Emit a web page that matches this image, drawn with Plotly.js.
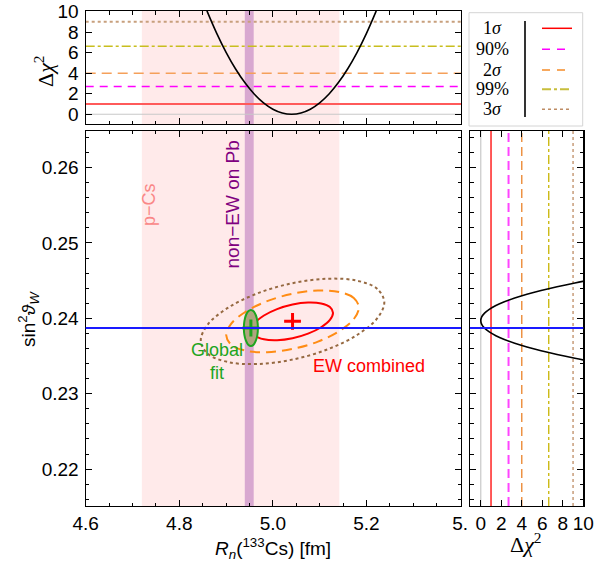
<!DOCTYPE html>
<html><head><meta charset="utf-8">
<script src="https://cdn.plot.ly/plotly-3.0.1.min.js"></script>
<style>html,body{margin:0;padding:0;background:#fff}#chart{width:611px;height:564px}</style>
</head><body><div id="chart"></div>
<script>
// ---- data ----
const thresholds = [1, 2.71, 4, 6.63, 9];
const levelLabels = ['1<i>σ</i>', '90%', '2<i>σ</i>', '99%', '3<i>σ</i>'];
const pCsBand = [4.72, 5.142];
const pbBand = [4.940, 4.959];
const sinGlobal = 0.23873;
const ewCenter = [5.042, 0.2396];
const gfCenter = [4.953, 0.23872];

// top panel: Δχ² vs Rn
const rnScan = [4.85, 4.86, 4.88, 4.90, 4.92, 4.94, 4.96, 4.98, 5.00, 5.02, 5.04, 5.06, 5.08, 5.10, 5.12, 5.14, 5.16, 5.18, 5.20, 5.22, 5.23];
const chiRn  = [11.1, 9.97, 7.88, 6.03, 4.43, 3.08, 1.97, 1.11, 0.49, 0.12, 0.0, 0.12, 0.49, 1.11, 1.97, 3.08, 4.43, 6.03, 7.88, 9.97, 11.1];

// right panel: Δχ² vs sin²θW
const s2wScan = [0.2343, 0.2347, 0.2352, 0.2357, 0.2362, 0.2367, 0.2372, 0.2377, 0.2382, 0.2387, 0.2392, 0.2397, 0.2402, 0.2407, 0.2412, 0.2417, 0.2422, 0.2427, 0.2432, 0.2437, 0.2442, 0.2447, 0.2451];
const chiS2w  = [10.71, 9.18, 7.44, 5.88, 4.50, 3.31, 2.30, 1.47, 0.83, 0.37, 0.09, 0.0, 0.09, 0.37, 0.83, 1.47, 2.30, 3.31, 4.50, 5.88, 7.44, 9.18, 10.71];

// EW combined contours
const ew1x = [5.1285, 5.1219, 5.1031, 5.0751, 5.0420, 5.0089, 4.9809, 4.9621, 4.9555, 4.9621, 4.9809, 5.0089, 5.0420, 5.0751, 5.1031, 5.1219];
const ew1y = [0.24073, 0.24150, 0.24198, 0.24210, 0.24184, 0.24123, 0.24038, 0.23941, 0.23847, 0.23770, 0.23722, 0.23710, 0.23736, 0.23797, 0.23882, 0.23979];
const ew2x = [5.1837, 5.1729, 5.1422, 5.0963, 5.0420, 4.9877, 4.9418, 4.9111, 4.9003, 4.9111, 4.9418, 4.9877, 5.0420, 5.0963, 5.1422, 5.1729];
const ew2y = [0.24145, 0.24271, 0.24349, 0.24369, 0.24326, 0.24228, 0.24088, 0.23930, 0.23775, 0.23649, 0.23571, 0.23551, 0.23594, 0.23692, 0.23832, 0.23990];
const ew3x = [5.2381, 5.2232, 5.1806, 5.1171, 5.0420, 4.9669, 4.9034, 4.8608, 4.8459, 4.8608, 4.9034, 4.9669, 5.0420, 5.1171, 5.1806, 5.2232];
const ew3y = [0.24215, 0.24390, 0.24499, 0.24526, 0.24467, 0.24331, 0.24138, 0.23918, 0.23705, 0.23530, 0.23421, 0.23394, 0.23453, 0.23589, 0.23782, 0.24002];
// global fit contour
const gfx = [4.9680, 4.9669, 4.9636, 4.9587, 4.9530, 4.9473, 4.9424, 4.9391, 4.9380, 4.9391, 4.9424, 4.9473, 4.9530, 4.9587, 4.9636, 4.9669];
const gfy = [0.23872, 0.23964, 0.24041, 0.24093, 0.24111, 0.24093, 0.24041, 0.23964, 0.23872, 0.23780, 0.23703, 0.23651, 0.23633, 0.23651, 0.23703, 0.23780];

// ---- styles ----
const W = 611, H = 564;
const px = v => v / W, py = v => 1 - v / H;
const lvlStyleTop = [
  {color: 'rgb(255,90,90)', width: 2, dash: 'solid'},
  {color: '#ff00ff', width: 1.5, dash: '8px,6px'},
  {color: 'rgb(245,160,90)', width: 1.5, dash: '10px,6px'},
  {color: 'rgb(200,190,30)', width: 1.5, dash: 'dashdot'},
  {color: 'rgb(200,160,125)', width: 2, dash: 'dot'}
];
const lvlStyleRight = [
  {color: '#ff0000', width: 1.3, dash: 'solid'},
  {color: '#ff44ff', width: 2, dash: '9px,5px'},
  {color: 'rgb(235,130,40)', width: 1.3, dash: '9px,5px'},
  {color: 'rgb(200,180,0)', width: 1.3, dash: 'dashdot'},
  {color: 'rgb(190,140,100)', width: 1.3, dash: 'dot'}
];
const lvlStyleLeg = [
  {color: '#ff0000', width: 1.5, dash: 'solid'},
  {color: '#ff00ff', width: 1.5, dash: '8px,7px'},
  {color: 'rgb(245,140,40)', width: 1.5, dash: '8px,7px'},
  {color: 'rgb(200,190,60)', width: 2, dash: 'dashdot'},
  {color: 'rgb(190,140,100)', width: 1.5, dash: 'dot'}
];
const legY = [28.3, 49.3, 70, 89.3, 109.3];
const close = a => a.concat([a[0]]);

const traces = [
  {x: rnScan, y: chiRn, xaxis: 'x', yaxis: 'y', mode: 'lines', line: {color: 'black', width: 1.6, shape: 'spline'}, hoverinfo: 'skip'},
  {x: chiS2w, y: s2wScan, xaxis: 'x3', yaxis: 'y3', mode: 'lines', line: {color: 'black', width: 1.6, shape: 'spline'}, hoverinfo: 'skip'},
  {x: close(ew3x), y: close(ew3y), xaxis: 'x2', yaxis: 'y2', mode: 'lines', line: {color: 'rgb(150,105,65)', width: 2, dash: 'dot', shape: 'spline'}},
  {x: close(ew2x), y: close(ew2y), xaxis: 'x2', yaxis: 'y2', mode: 'lines', line: {color: 'rgb(255,140,20)', width: 2, dash: '10px,6px', shape: 'spline'}},
  {x: close(ew1x), y: close(ew1y), xaxis: 'x2', yaxis: 'y2', mode: 'lines', line: {color: '#ff0000', width: 2, shape: 'spline'}},
  {x: close(gfx), y: close(gfy), xaxis: 'x2', yaxis: 'y2', mode: 'lines', fill: 'toself', fillcolor: 'rgb(175,165,125)', line: {color: 'rgb(30,165,30)', width: 2, shape: 'spline'}},
  {x: [ewCenter[0]], y: [ewCenter[1]], xaxis: 'x2', yaxis: 'y2', mode: 'markers', marker: {symbol: 'cross-thin', size: 12, line: {color: '#ff0000', width: 3}}},
  {x: [gfCenter[0]], y: [gfCenter[1]], xaxis: 'x2', yaxis: 'y2', mode: 'markers', marker: {symbol: 'cross-thin', size: 12, line: {color: 'rgb(30,165,30)', width: 3}}}
];

const shapes = [];
// bands in top and main panels
[['x', 'y'], ['x2', 'y2']].forEach(([xa, ya]) => {
  shapes.push({type: 'rect', layer: 'below', xref: xa, yref: ya + ' domain', x0: pCsBand[0], x1: pCsBand[1], y0: 0, y1: 1, fillcolor: 'rgb(255,234,234)', line: {width: 0}});
  shapes.push({type: 'rect', layer: 'below', xref: xa, yref: ya + ' domain', x0: pbBand[0], x1: pbBand[1], y0: 0, y1: 1, fillcolor: 'rgb(216,168,208)', line: {width: 0}});
});
// zero lines
shapes.push({type: 'line', layer: 'below', xref: 'x domain', yref: 'y', x0: 0, x1: 1, y0: 0, y1: 0, line: {color: '#c8c8c8', width: 1.2}});
shapes.push({type: 'line', layer: 'below', xref: 'x3', yref: 'y3 domain', x0: 0, x1: 0, y0: 0, y1: 1, line: {color: '#c8c8c8', width: 1.2}});
// threshold lines
thresholds.forEach((v, i) => {
  shapes.push({type: 'line', layer: 'below', xref: 'x domain', yref: 'y', x0: 0, x1: 1, y0: v, y1: v, line: lvlStyleTop[i]});
  shapes.push({type: 'line', layer: 'below', xref: 'x3', yref: 'y3 domain', x0: v, x1: v, y0: 0, y1: 1, line: lvlStyleRight[i]});
});
// blue global-fit sin² line across main and right panels
shapes.push({type: 'line', xref: 'x2 domain', yref: 'y2', x0: 0, x1: 1, y0: sinGlobal, y1: sinGlobal, line: {color: '#1a1aff', width: 2}});
shapes.push({type: 'line', xref: 'x3 domain', yref: 'y3', x0: 0, x1: 1, y0: sinGlobal, y1: sinGlobal, line: {color: '#1a1aff', width: 2}});
// legend box
shapes.push({type: 'rect', xref: 'paper', yref: 'paper', x0: px(469), x1: px(582.7), y0: py(126), y1: py(12.7), line: {color: '#d4d4d4', width: 1}});
shapes.push({type: 'line', xref: 'paper', yref: 'paper', x0: px(525), x1: px(525), y0: py(117), y1: py(21), line: {color: 'black', width: 1.6}});
legY.forEach((yy, i) => {
  shapes.push({type: 'line', xref: 'paper', yref: 'paper', x0: px(542), x1: px(572), y0: py(yy), y1: py(yy), line: lvlStyleLeg[i]});
});

const annotations = [];
levelLabels.forEach((t, i) => {
  annotations.push({xref: 'paper', yref: 'paper', x: px(492), y: py(legY[i]), text: t, showarrow: false, xanchor: 'center', yanchor: 'middle', font: {family: 'Liberation Serif', size: 18, color: 'black'}});
});
const sans = 'Liberation Sans';
annotations.push(
  {xref: 'paper', yref: 'paper', x: px(44), y: py(71), text: 'Δ<i>χ</i><sup>2</sup>', textangle: -90, showarrow: false, xanchor: 'center', yanchor: 'middle', font: {family: 'Liberation Serif', size: 22, color: 'black'}},
  {xref: 'paper', yref: 'paper', x: px(526), y: py(543), text: 'Δ<i>χ</i><sup>2</sup>', showarrow: false, xanchor: 'center', yanchor: 'middle', font: {family: 'Liberation Serif', size: 22, color: 'black'}},
  {xref: 'paper', yref: 'paper', x: px(28), y: py(319), text: 'sin<sup>2</sup><i>ϑ</i><sub><i>W</i></sub>', textangle: -90, showarrow: false, xanchor: 'center', yanchor: 'middle', font: {family: sans, size: 19, color: 'black'}},
  {xref: 'paper', yref: 'paper', x: px(273), y: py(548), text: '<i>R</i><sub><i>n</i></sub>(<sup>133</sup>Cs) [fm]', showarrow: false, xanchor: 'center', yanchor: 'middle', font: {family: sans, size: 19, color: 'black'}},
  {xref: 'paper', yref: 'paper', x: px(149), y: py(205), text: 'p−Cs', textangle: -90, showarrow: false, xanchor: 'center', yanchor: 'middle', font: {family: sans, size: 18, color: 'rgb(250,135,135)'}},
  {xref: 'paper', yref: 'paper', x: px(232.5), y: py(205), text: 'non−EW on Pb', textangle: -90, showarrow: false, xanchor: 'center', yanchor: 'middle', font: {family: sans, size: 19, color: 'rgb(128,0,128)'}},
  {xref: 'paper', yref: 'paper', x: px(217), y: py(361), text: 'Global<br>fit', showarrow: false, xanchor: 'center', yanchor: 'middle', align: 'center', font: {family: sans, size: 18, color: 'rgb(30,165,30)'}},
  {xref: 'paper', yref: 'paper', x: px(369), y: py(366), text: 'EW combined', showarrow: false, xanchor: 'center', yanchor: 'middle', font: {family: sans, size: 18, color: '#ff0000'}}
);

const tickFont = {family: sans, size: 19, color: 'black'};
const frame = {showline: true, linecolor: 'black', linewidth: 1.2, mirror: 'ticks', ticks: 'inside', ticklen: 6, tickcolor: 'black', showgrid: false, zeroline: false, tickfont: tickFont, fixedrange: true};
const xDom = [px(85.7), px(461)];
const mainYDom = [py(506), py(130.7)];
const xRange = [4.6, 5.402];
const yRange = [0.2151, 0.2649];

const layout = {
  width: W, height: H,
  margin: {l: 0, r: 0, t: 0, b: 0},
  paper_bgcolor: 'white', plot_bgcolor: 'white',
  showlegend: false,
  xaxis: Object.assign({}, frame, {domain: xDom, anchor: 'y', range: xRange, tickmode: 'linear', tick0: 4.6, dtick: 0.2, showticklabels: false,
    minor: {tickmode: 'linear', tick0: 4.6, dtick: 0.05, ticks: 'inside', ticklen: 3.5, tickcolor: 'black'}}),
  yaxis: Object.assign({}, frame, {domain: [py(124), py(11)], anchor: 'x', range: [-0.95, 10.05], tickmode: 'linear', tick0: 0, dtick: 2, ticklabelstandoff: 2}),
  xaxis2: Object.assign({}, frame, {domain: xDom, anchor: 'y2', range: xRange, tickmode: 'array', tickvals: [4.6, 4.8, 5.0, 5.2, 5.4], ticktext: ['4.6', '4.8', '5.0', '5.2', '5.'],
    minor: {tickmode: 'linear', tick0: 4.6, dtick: 0.05, ticks: 'inside', ticklen: 3.5, tickcolor: 'black'}}),
  yaxis2: Object.assign({}, frame, {domain: mainYDom, anchor: 'x2', range: yRange, tickmode: 'linear', tick0: 0.22, dtick: 0.01, tickformat: '.2f', ticklabelstandoff: 2,
    minor: {tickmode: 'linear', tick0: 0.22, dtick: 0.002, ticks: 'inside', ticklen: 3.5, tickcolor: 'black'}}),
  xaxis3: Object.assign({}, frame, {domain: [px(470), px(583.3)], anchor: 'y3', range: [-1.05, 10], tickmode: 'linear', tick0: 0, dtick: 2}),
  yaxis3: Object.assign({}, frame, {domain: mainYDom, anchor: 'x3', range: yRange, tickmode: 'linear', tick0: 0.22, dtick: 0.01, showticklabels: false,
    minor: {tickmode: 'linear', tick0: 0.22, dtick: 0.002, ticks: 'inside', ticklen: 3.5, tickcolor: 'black'}}),
  shapes: shapes,
  annotations: annotations
};

Plotly.newPlot('chart', traces, layout, {staticPlot: true, displayModeBar: false});
</script></body></html>
